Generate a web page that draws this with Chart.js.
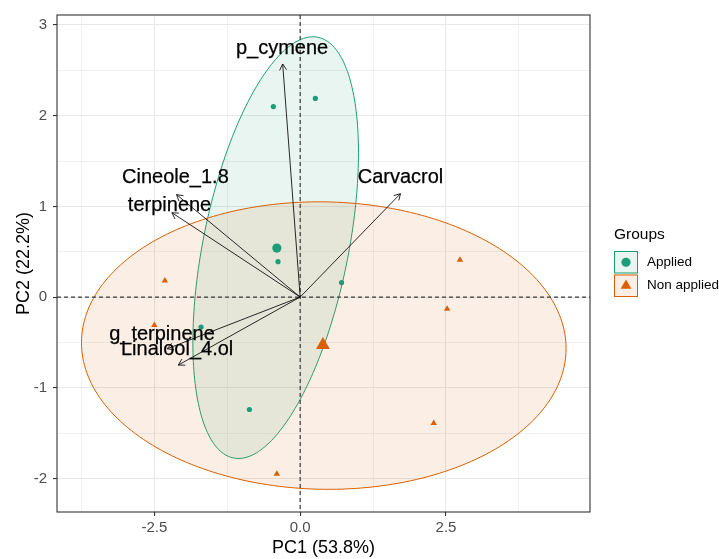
<!DOCTYPE html>
<html>
<head>
<meta charset="utf-8">
<script src="https://cdn.jsdelivr.net/npm/chart.js@4"></script>
<style>
  html, body { margin: 0; padding: 0; background: #fff; }
  canvas { display: block; }
</style>
</head>
<body>
<canvas id="c" width="719" height="559"></canvas>
<script>
// ---- Data ----
const groups = ["Applied", "Non applied"];
const appliedX = [-0.46, 0.26, -0.38, 0.71, -1.70, -0.87];
const appliedY = [2.10, 2.19, 0.39, 0.16, -0.33, -1.24];
const nonAppliedX = [-2.32, -2.50, -0.40, 2.52, 2.29, 2.74];
const nonAppliedY = [0.18, -0.31, -1.95, -0.13, -1.39, 0.41];
const meanX = [-0.40, 0.39];
const meanY = [0.54, -0.53];

const variables = ["p_cymene", "Cineole_1.8", "terpinene", "Carvacrol", "g_terpinene", "Linalool_4.ol"];
const loadX = [-0.30, -2.12, -2.20, 1.72, -2.28, -2.09];
const loadY = [2.57, 1.13, 0.93, 1.14, -0.57, -0.75];
const labelX = [-0.31, -2.14, -2.24, 1.72, -2.37, -2.11];
const labelY = [2.74, 1.32, 1.01, 1.32, -0.41, -0.58];

// confidence ellipses: centre, spread along x / y, correlation
const ellCX = [-0.42, 0.405];
const ellCY = [0.545, -0.535];
const ellSX = [1.42, 4.155];
const ellSY = [2.325, 1.585];
const ellR  = [0.45, -0.02];

const xTicks = [-3.75, -2.5, -1.25, 0, 1.25, 2.5, 3.75];
const xTickLabels = {"-2.5": "-2.5", "0": "0.0", "2.5": "2.5"};
const yTicks = [-2, -1.5, -1, -0.5, 0, 0.5, 1, 1.5, 2, 2.5, 3];
const yTickLabels = {"-2": "-2", "-1": "-1", "0": "0", "1": "1", "2": "2", "3": "3"};

const xTitle = "PC1 (53.8%)";
const yTitle = "PC2 (22.2%)";
const legendTitle = "Groups";

// ---- Styles ----
const GREEN = "#1B9E77", ORANGE = "#D95F02";
const GREEN_FILL = "rgba(27,158,119,0.10)", ORANGE_FILL = "rgba(217,95,2,0.10)";
const FONT = '"Liberation Sans", Arial, sans-serif';

function pts(xs, ys) { return xs.map((x, i) => ({x: x, y: ys[i]})); }

const isMajorX = v => xTickLabels.hasOwnProperty(String(v));
const isMajorY = v => yTickLabels.hasOwnProperty(String(v));

const backPlugin = {
  id: 'back',
  beforeDatasetsDraw(chart) {
    const {ctx, chartArea: a, scales: {x, y}} = chart;
    ctx.save();
    ctx.beginPath();
    ctx.rect(a.left, a.top, a.right - a.left, a.bottom - a.top);
    ctx.clip();
    // ellipses
    const fills = [GREEN_FILL, ORANGE_FILL], strokes = [GREEN, ORANGE];
    for (let g = 0; g < ellCX.length; g++) {
      ctx.beginPath();
      const n = 240, r = ellR[g], q = Math.sqrt(1 - r * r);
      for (let i = 0; i <= n; i++) {
        const t = i / n * Math.PI * 2;
        const dx = ellCX[g] + ellSX[g] * Math.cos(t);
        const dy = ellCY[g] + ellSY[g] * (r * Math.cos(t) + q * Math.sin(t));
        const px = x.getPixelForValue(dx), py = y.getPixelForValue(dy);
        if (i === 0) ctx.moveTo(px, py); else ctx.lineTo(px, py);
      }
      ctx.closePath();
      ctx.fillStyle = fills[g];
      ctx.fill();
      ctx.strokeStyle = strokes[g];
      ctx.lineWidth = 1;
      ctx.stroke();
    }
    // dashed reference lines
    ctx.strokeStyle = "#3a3a3a";
    ctx.lineWidth = 1.2;
    ctx.setLineDash([4, 3]);
    const x0 = x.getPixelForValue(0), y0 = y.getPixelForValue(0);
    ctx.beginPath();
    ctx.moveTo(a.left, y0); ctx.lineTo(a.right, y0);
    ctx.moveTo(x0, a.top); ctx.lineTo(x0, a.bottom);
    ctx.stroke();
    ctx.restore();
  },
  afterDatasetsDraw(chart) {
    const {ctx, chartArea: a, scales: {x, y}} = chart;
    ctx.save();
    // arrows
    const ox = x.getPixelForValue(0), oy = y.getPixelForValue(0);
    ctx.strokeStyle = "#111";
    ctx.lineWidth = 0.9;
    for (let i = 0; i < variables.length; i++) {
      const tx = x.getPixelForValue(loadX[i]), ty = y.getPixelForValue(loadY[i]);
      const ang = Math.atan2(ty - oy, tx - ox);
      const L = 7, h = Math.PI / 6;
      ctx.beginPath();
      ctx.moveTo(ox, oy); ctx.lineTo(tx, ty);
      ctx.moveTo(tx - L * Math.cos(ang - h), ty - L * Math.sin(ang - h));
      ctx.lineTo(tx, ty);
      ctx.lineTo(tx - L * Math.cos(ang + h), ty - L * Math.sin(ang + h));
      ctx.stroke();
    }
    // variable labels
    ctx.fillStyle = "#000";
    ctx.strokeStyle = "#000";
    ctx.lineWidth = 0.25;
    ctx.font = '20px ' + FONT;
    ctx.textAlign = 'center';
    ctx.textBaseline = 'middle';
    for (let i = 0; i < variables.length; i++) {
      const lx = x.getPixelForValue(labelX[i]), ly = y.getPixelForValue(labelY[i]);
      ctx.fillText(variables[i], lx, ly);
      ctx.strokeText(variables[i], lx, ly);
    }
    // panel border
    ctx.strokeStyle = "#333";
    ctx.lineWidth = 1.1;
    ctx.strokeRect(a.left, a.top, a.right - a.left, a.bottom - a.top);
    // axis titles
    ctx.fillStyle = "#000";
    ctx.font = '18px ' + FONT;
    ctx.fillText(xTitle, (a.left + a.right) / 2, 548);
    ctx.save();
    ctx.translate(24, (a.top + a.bottom) / 2);
    ctx.rotate(-Math.PI / 2);
    ctx.fillText(yTitle, 0, 0);
    ctx.restore();
    // legend
    ctx.textAlign = 'left';
    ctx.font = '15.5px ' + FONT;
    ctx.fillText(legendTitle, 614, 235);
    const keyFill = [GREEN_FILL, ORANGE_FILL], keyStroke = [GREEN, ORANGE];
    for (let g = 0; g < groups.length; g++) {
      const bx = 614, by = 251 + g * 23.5, bw = 24, bh = 22.5;
      ctx.fillStyle = "#fff";
      ctx.fillRect(bx, by, bw, bh);
      ctx.fillStyle = keyFill[g];
      ctx.fillRect(bx, by, bw, bh);
      ctx.strokeStyle = keyStroke[g];
      ctx.lineWidth = 1;
      ctx.strokeRect(bx + 0.5, by + 0.5, bw - 1, bh - 1);
      const cx = bx + bw / 2, cy = by + bh / 2;
      ctx.fillStyle = keyStroke[g];
      ctx.beginPath();
      if (g === 0) {
        ctx.arc(cx, cy, 4.6, 0, Math.PI * 2);
      } else {
        const rr = 6.2;
        ctx.moveTo(cx, cy - rr);
        ctx.lineTo(cx + rr * 0.866, cy + rr * 0.5);
        ctx.lineTo(cx - rr * 0.866, cy + rr * 0.5);
        ctx.closePath();
      }
      ctx.fill();
      ctx.fillStyle = "#000";
      ctx.font = '13.5px ' + FONT;
      ctx.textBaseline = 'middle';
      ctx.fillText(groups[g], 647, cy);
    }
    ctx.restore();
  }
};

new Chart(document.getElementById('c'), {
  type: 'scatter',
  data: {
    datasets: [
      { label: groups[0], data: pts(appliedX, appliedY), pointStyle: 'circle', pointRadius: 2.6,
        backgroundColor: GREEN, borderWidth: 0 },
      { label: groups[1], data: pts(nonAppliedX, nonAppliedY), pointStyle: 'triangle', pointRadius: 3.7,
        backgroundColor: ORANGE, borderWidth: 0 },
      { label: groups[0] + " mean", data: [{x: meanX[0], y: meanY[0]}], pointStyle: 'circle', pointRadius: 4.6,
        backgroundColor: GREEN, borderWidth: 0 },
      { label: groups[1] + " mean", data: [{x: meanX[1], y: meanY[1]}], pointStyle: 'triangle', pointRadius: 8,
        backgroundColor: ORANGE, borderWidth: 0 }
    ]
  },
  options: {
    responsive: false,
    animation: false,
    devicePixelRatio: 1,
    layout: { padding: { left: 0, right: 129, top: 11, bottom: 0 } },
    plugins: { legend: { display: false }, tooltip: { enabled: false } },
    scales: {
      x: {
        type: 'linear', min: -4.17, max: 4.97,
        afterBuildTicks: s => { s.ticks = xTicks.map(v => ({value: v})); },
        afterFit: s => { s.height = 47; },
        border: { display: false },
        grid: {
          color: c => (c.tick && isMajorX(c.tick.value)) ? '#E8E8E8' : '#EEEEEE',
          lineWidth: c => (c.tick && isMajorX(c.tick.value)) ? 1.1 : 0.8,
          tickColor: c => (c.tick && isMajorX(c.tick.value)) ? '#333' : 'rgba(0,0,0,0)',
          tickLength: 4, tickWidth: 1.1
        },
        ticks: {
          autoSkip: false, maxRotation: 0, padding: 3,
          color: '#4D4D4D', font: { family: FONT, size: 15 },
          callback: v => xTickLabels[String(v)] || ''
        }
      },
      y: {
        type: 'linear', min: -2.37, max: 3.11,
        afterBuildTicks: s => { s.ticks = yTicks.map(v => ({value: v})); },
        afterFit: s => { s.width = 57; },
        border: { display: false },
        grid: {
          color: c => (c.tick && isMajorY(c.tick.value)) ? '#E8E8E8' : '#EEEEEE',
          lineWidth: c => (c.tick && isMajorY(c.tick.value)) ? 1.1 : 0.8,
          tickColor: c => (c.tick && isMajorY(c.tick.value)) ? '#333' : 'rgba(0,0,0,0)',
          tickLength: 4, tickWidth: 1.1
        },
        ticks: {
          autoSkip: false, padding: 6,
          color: '#4D4D4D', font: { family: FONT, size: 15 },
          callback: v => yTickLabels[String(v)] || ''
        }
      }
    }
  },
  plugins: [backPlugin]
});
</script>
</body>
</html>
